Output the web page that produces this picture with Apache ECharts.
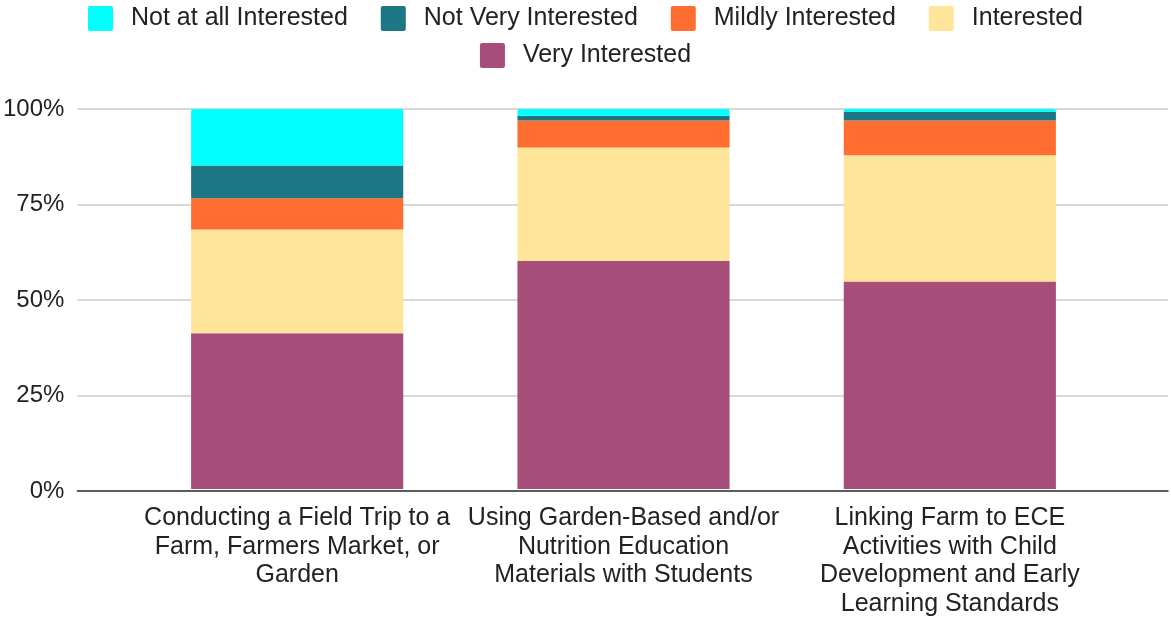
<!DOCTYPE html>
<html><head><meta charset="utf-8">
<script src="https://cdn.jsdelivr.net/npm/echarts@6/dist/echarts.min.js"></script>
<style>html,body{margin:0;padding:0;background:#fff}#c{width:1171px;height:618px}</style>
</head><body><div id="c"></div>
<script>
const categories = [
  'Conducting a Field Trip to a\nFarm, Farmers Market, or\nGarden',
  'Using Garden-Based and/or\nNutrition Education\nMaterials with Students',
  'Linking Farm to ECE\nActivities with Child\nDevelopment and Early\nLearning Standards'
];
const seriesNames = ['Very Interested', 'Interested', 'Mildly Interested', 'Not Very Interested', 'Not at all Interested'];
const veryInterested = [41.0, 60.0, 54.6];
const interested = [27.3, 29.9, 33.2];
const mildlyInterested = [8.2, 7.1, 9.2];
const notVeryInterested = [8.6, 1.2, 2.2];
const notAtAllInterested = [14.9, 1.8, 0.8];
const yTicks = [0, 25, 50, 75, 100];

const colors = ['#a64d79', '#ffe599', '#ff6d31', '#1c7684', '#00ffff'];
const values = [veryInterested, interested, mildlyInterested, notVeryInterested, notAtAllInterested];
const FONT = '"Liberation Sans", Arial, sans-serif';
const SQUARE = 'path://M2,0 H22 Q24,0 24,2 V22 Q24,24 22,24 H2 Q0,24 0,22 V2 Q0,0 2,0 Z';

const chart = echarts.init(document.getElementById('c'), null, {renderer: 'canvas'});
const gridTop = 109, gridBottom = 127;
const legendText = {fontFamily: FONT, fontSize: 25, color: '#222', padding: [0, 0, 0, 13]};
chart.setOption({
  animation: false,
  backgroundColor: '#ffffff',
  legend: [
    {
      data: ['Not at all Interested', 'Not Very Interested', 'Mildly Interested', 'Interested'],
      top: 1, left: 'center', itemWidth: 25, itemHeight: 25, itemGap: 33,
      icon: SQUARE, textStyle: legendText, selectedMode: false
    },
    {
      data: ['Very Interested'],
      top: 38, left: 'center', itemWidth: 25, itemHeight: 25, itemGap: 33,
      icon: SQUARE, textStyle: legendText, selectedMode: false
    }
  ],
  grid: [
    {left: 75, right: 3, top: gridTop, bottom: gridBottom, containLabel: false},
    {left: 134, right: 58, top: gridTop, bottom: gridBottom, containLabel: false}
  ],
  xAxis: [
    {gridIndex: 0, type: 'category', data: categories, axisTick: {show: false}, axisLabel: {show: false},
     axisLine: {show: true, lineStyle: {color: '#333', width: 1.5}}, z: 10},
    {gridIndex: 1, type: 'category', data: categories, axisTick: {show: false}, axisLine: {show: false},
     axisLabel: {fontFamily: FONT, fontSize: 25, color: '#222', lineHeight: 28.5, margin: 15, interval: 0}}
  ],
  yAxis: [
    {gridIndex: 0, type: 'value', min: yTicks[0], max: yTicks[yTicks.length - 1], interval: yTicks[1] - yTicks[0],
     axisLine: {show: false}, axisTick: {show: false},
     axisLabel: {formatter: '{value}%', fontFamily: FONT, fontSize: 24, color: '#222', margin: 13},
     splitLine: {lineStyle: {color: '#cccccc', width: 1.5}}},
    {gridIndex: 1, type: 'value', min: yTicks[0], max: yTicks[yTicks.length - 1], interval: yTicks[1] - yTicks[0],
     show: false, splitLine: {show: false}}
  ],
  series: seriesNames.map((name, i) => ({
    name, type: 'bar', stack: 'total', xAxisIndex: 1, yAxisIndex: 1,
    data: values[i], barWidth: '65%',
    itemStyle: {color: colors[i], borderRadius: i === seriesNames.length - 1 ? [2, 2, 0, 0] : 0}
  }))
});
</script></body></html>
